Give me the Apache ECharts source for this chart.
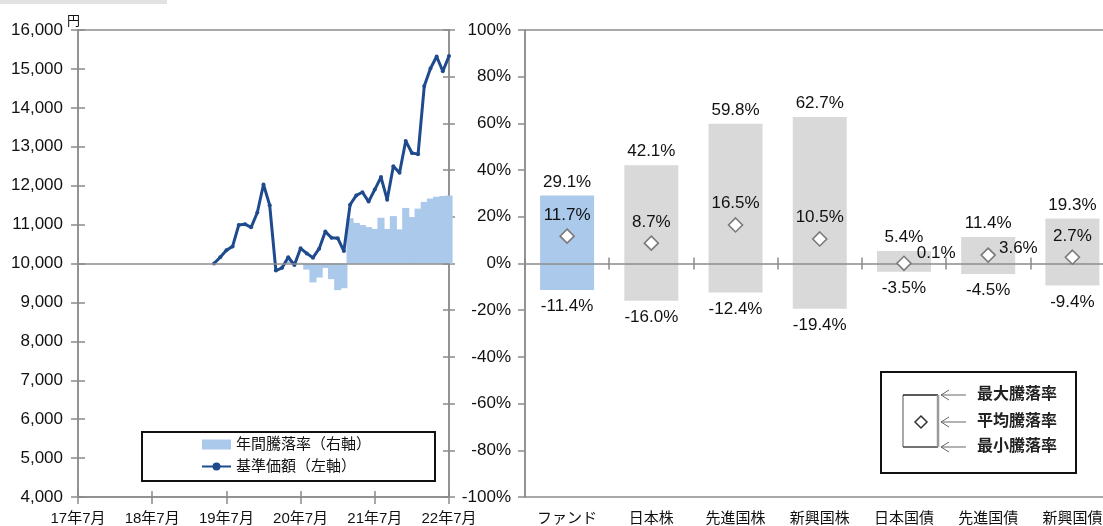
<!DOCTYPE html>
<html>
<head>
<meta charset="utf-8">
<script src="https://cdn.jsdelivr.net/npm/echarts@6/dist/echarts.min.js"></script>
<style>
  html, body { margin: 0; padding: 0; background: #fff; overflow: hidden; }
  #chart { position: absolute; left: 0; top: 0; width: 1115px; height: 560px; }
</style>
</head>
<body>
<div id="chart"></div>
<script>
const FONT = "'Liberation Sans', 'Noto Sans CJK JP', sans-serif";
const AXIS_GRAY = '#8c8c8c';
const TEXT = '#111';
const NAV_BLUE = '#1f4b8e';
const LIGHT_BLUE = '#abc9eb';
const GRAY_BAR = '#d9d9d9';

// left chart: monthly NAV and 1-year return
const months = [
  '2019-05', '2019-06', '2019-07', '2019-08', '2019-09', '2019-10', '2019-11', '2019-12',
  '2020-01', '2020-02', '2020-03', '2020-04', '2020-05', '2020-06', '2020-07', '2020-08',
  '2020-09', '2020-10', '2020-11', '2020-12', '2021-01', '2021-02', '2021-03', '2021-04',
  '2021-05', '2021-06', '2021-07', '2021-08', '2021-09', '2021-10', '2021-11', '2021-12',
  '2022-01', '2022-02', '2022-03', '2022-04', '2022-05', '2022-06', '2022-07'
];
const navValues = [
  10000, 10160, 10340, 10440, 10990, 11010, 10930, 11310, 12030, 11500,
  9820, 9890, 10160, 9960, 10390, 10260, 10150, 10380, 10820, 10660,
  10650, 10320, 11510, 11750, 11830, 11590, 11900, 12220, 11640, 12500,
  12330, 13150, 12840, 12810, 14560, 15010, 15320, 14940, 15330
];
const annualReturns = [
  null, null, null, null, null, null, null, null, null, null, null, null,
  1.0, -0.5, 0.3, -2.6, -8.1, -6.0, -1.9, -6.7, -11.4, -10.6,
  19.4, 17.4, 16.5, 15.6, 14.8, 19.6, 14.8, 20.3, 14.6, 23.8,
  19.9, 23.5, 26.4, 27.8, 28.6, 28.9, 29.1
];
const yearTickLabels = ['17年7月', '18年7月', '19年7月', '20年7月', '21年7月', '22年7月'];

// right chart: range of annual returns by asset class
const assetClasses = ['ファンド', '日本株', '先進国株', '新興国株', '日本国債', '先進国債', '新興国債'];
const maxReturns = [29.1, 42.1, 59.8, 62.7, 5.4, 11.4, 19.3];
const avgReturns = [11.7, 8.7, 16.5, 10.5, 0.1, 3.6, 2.7];
const minReturns = [-11.4, -16.0, -12.4, -19.4, -3.5, -4.5, -9.4];

// months counted from 2017-07 (start of the x axis)
function monthIndex(ym) {
  const [y, m] = ym.split('-').map(Number);
  return (y - 2017) * 12 + (m - 7);
}

const navData = months.map((m, i) => [monthIndex(m), navValues[i]]);
const returnData = months
  .map((m, i) => [monthIndex(m), annualReturns[i]])
  .filter(d => d[1] !== null);

// a couple of average labels sit beside the marker in the original
const avgLabelTweaks = {
  4: { position: 'right', distance: 5, offset: [0, -10] },
  5: { position: 'right', distance: 3, offset: [0, -7] }
};
const avgData = avgReturns.map((v, i) => (
  avgLabelTweaks[i] ? { value: v, label: avgLabelTweaks[i] } : v
));

const pct = p => p.value.toFixed(1) + '%';
const barColor = p => (p.dataIndex === 0 ? LIGHT_BLUE : GRAY_BAR);

const axisLineStyle = { color: AXIS_GRAY, width: 1.5 };
const hiddenLabel = { show: false };
const numLabel = { fontSize: 17, color: TEXT, fontFamily: FONT };

const chart = echarts.init(document.getElementById('chart'));

const option = {
  animation: false,
  textStyle: { fontFamily: FONT },
  grid: [
    { left: 78, top: 30, width: 371, height: 467, show: true, borderColor: AXIS_GRAY, borderWidth: 1.5 },
    { left: 525, top: 30, width: 589.5, height: 467, show: true, borderColor: AXIS_GRAY, borderWidth: 1.5 }
  ],
  legend: {
    left: 201,
    top: 437,
    padding: 0,
    orient: 'vertical',
    itemWidth: 29,
    itemHeight: 10,
    itemGap: 7,
    textStyle: { fontSize: 15, color: TEXT, fontFamily: FONT },
    data: [
      { name: '年間騰落率（右軸）', icon: 'rect' },
      { name: '基準価額（左軸）' }
    ]
  },
  xAxis: [
    {
      gridIndex: 0, type: 'value', min: 0, max: 60, interval: 12, position: 'bottom',
      axisLine: { show: true, onZero: false, lineStyle: axisLineStyle },
      axisTick: { show: true, length: 7, lineStyle: axisLineStyle },
      axisLabel: {
        margin: 14, fontSize: 15, color: TEXT, fontFamily: FONT,
        formatter: v => yearTickLabels[v / 12]
      },
      splitLine: { show: false }
    },
    {
      gridIndex: 0, type: 'value', min: 0, max: 60, interval: 12, position: 'bottom',
      axisLine: { show: false, onZero: false },
      axisTick: { show: true, inside: true, length: 6, lineStyle: axisLineStyle },
      axisLabel: hiddenLabel,
      splitLine: { show: false }
    },
    {
      gridIndex: 1, type: 'category', data: assetClasses, position: 'bottom',
      axisLine: { show: false, onZero: false },
      axisTick: { show: false },
      axisLabel: { margin: 14, fontSize: 15, color: TEXT, fontFamily: FONT }
    },
    {
      gridIndex: 1, type: 'category', data: assetClasses, position: 'bottom', z: 5,
      axisLine: { show: true, onZero: true, onZeroAxisIndex: 4, lineStyle: axisLineStyle },
      axisTick: { show: true, length: 6, lineStyle: axisLineStyle },
      axisLabel: hiddenLabel
    },
    {
      gridIndex: 1, type: 'category', data: assetClasses, position: 'bottom', z: 5,
      axisLine: { show: false, onZero: true, onZeroAxisIndex: 4 },
      axisTick: { show: true, inside: true, length: 6, lineStyle: axisLineStyle },
      axisLabel: hiddenLabel
    }
  ],
  yAxis: [
    {
      gridIndex: 0, type: 'value', position: 'left', min: 4000, max: 16000, interval: 1000,
      name: '円', nameLocation: 'end', nameGap: 2,
      nameTextStyle: { fontSize: 13, color: TEXT, align: 'right', padding: [0, -2, 0, 0], fontFamily: FONT },
      axisLine: { show: true, onZero: false, lineStyle: axisLineStyle },
      axisTick: { show: true, length: 7, lineStyle: axisLineStyle },
      axisLabel: Object.assign({ margin: 15, formatter: v => v.toLocaleString('en-US') }, numLabel),
      splitLine: { show: false }
    },
    {
      gridIndex: 0, type: 'value', position: 'right', min: -100, max: 100, interval: 20,
      axisLine: { show: true, onZero: false, lineStyle: axisLineStyle },
      axisTick: { show: true, length: 6, lineStyle: axisLineStyle },
      axisLabel: hiddenLabel,
      splitLine: { show: false }
    },
    {
      gridIndex: 0, type: 'value', position: 'left', min: 4000, max: 16000, interval: 1000,
      axisLine: { show: false, onZero: false },
      axisTick: { show: true, inside: true, length: 7, lineStyle: axisLineStyle },
      axisLabel: hiddenLabel,
      splitLine: { show: false }
    },
    {
      gridIndex: 0, type: 'value', position: 'right', min: -100, max: 100, interval: 20,
      axisLine: { show: false, onZero: false },
      axisTick: { show: true, inside: true, length: 6, lineStyle: axisLineStyle },
      axisLabel: hiddenLabel,
      splitLine: { show: false }
    },
    {
      gridIndex: 1, type: 'value', position: 'left', min: -100, max: 100, interval: 20,
      axisLine: { show: true, onZero: false, lineStyle: axisLineStyle },
      axisTick: { show: true, length: 7, lineStyle: axisLineStyle },
      axisLabel: Object.assign({ margin: 14, formatter: '{value}%' }, numLabel),
      splitLine: { show: false }
    }
  ],
  series: [
    {
      name: '年間騰落率（右軸）',
      type: 'bar',
      xAxisIndex: 0,
      yAxisIndex: 1,
      data: returnData,
      barWidth: '115%',
      barCategoryGap: '0%',
      itemStyle: { color: LIGHT_BLUE, borderWidth: 0 },
      z: 2
    },
    {
      name: '基準価額（左軸）',
      type: 'line',
      xAxisIndex: 0,
      yAxisIndex: 0,
      data: navData,
      symbol: 'circle',
      symbolSize: 4,
      lineStyle: { color: NAV_BLUE, width: 3 },
      itemStyle: { color: NAV_BLUE },
      z: 4,
      markLine: {
        silent: true,
        symbol: 'none',
        label: { show: false },
        lineStyle: { color: AXIS_GRAY, width: 1.5, type: 'solid' },
        data: [{ yAxis: 10000 }]
      }
    },
    {
      name: '最大騰落率',
      type: 'bar',
      xAxisIndex: 2,
      yAxisIndex: 4,
      data: maxReturns,
      barWidth: 54,
      barGap: '-100%',
      itemStyle: { color: barColor },
      label: Object.assign({ show: true, position: 'top', distance: 5, formatter: pct }, numLabel)
    },
    {
      name: '最小騰落率',
      type: 'bar',
      xAxisIndex: 2,
      yAxisIndex: 4,
      data: minReturns,
      barWidth: 54,
      barGap: '-100%',
      itemStyle: { color: barColor },
      label: Object.assign({ show: true, position: 'bottom', distance: 8, formatter: pct }, numLabel)
    },
    {
      name: '平均騰落率',
      type: 'scatter',
      xAxisIndex: 2,
      yAxisIndex: 4,
      data: avgData,
      symbol: 'diamond',
      symbolSize: 14,
      itemStyle: { color: '#ffffff', borderColor: '#7a7a7a', borderWidth: 1.6, opacity: 1 },
      z: 6,
      label: Object.assign({ show: true, position: 'top', distance: 5, formatter: pct }, numLabel)
    }
  ],
  graphic: [
    { type: 'rect', shape: { x: 0, y: 0, width: 167, height: 4 }, style: { fill: '#e2e2e2' } },
    { type: 'rect', shape: { x: 142, y: 432, width: 293, height: 49 }, style: { fill: '#fff', stroke: '#111', lineWidth: 2 } },
    { type: 'rect', shape: { x: 881, y: 372, width: 195, height: 101 }, style: { fill: '#fff', stroke: '#111', lineWidth: 2 } },
    { type: 'line', shape: { x1: 903, y1: 395, x2: 903, y2: 447 }, style: { stroke: '#8c8c8c', lineWidth: 1.5 } },
    { type: 'line', shape: { x1: 903, y1: 395, x2: 938, y2: 395 }, style: { stroke: '#222', lineWidth: 1.5 } },
    { type: 'line', shape: { x1: 903, y1: 447, x2: 938, y2: 447 }, style: { stroke: '#444', lineWidth: 1.5 } },
    { type: 'line', shape: { x1: 938, y1: 395, x2: 938, y2: 447 }, style: { stroke: '#9a9a9a', lineWidth: 2.5 } },
    { type: 'polygon', shape: { points: [[921, 416], [927, 422], [921, 428], [915, 422]] }, style: { fill: '#fff', stroke: '#333', lineWidth: 1.5 } },
    { type: 'line', shape: { x1: 941, y1: 395, x2: 966, y2: 395 }, style: { stroke: '#666', lineWidth: 1 } },
    { type: 'line', shape: { x1: 941, y1: 422, x2: 966, y2: 422 }, style: { stroke: '#666', lineWidth: 1 } },
    { type: 'line', shape: { x1: 941, y1: 447, x2: 966, y2: 447 }, style: { stroke: '#666', lineWidth: 1 } },
    { type: 'polyline', shape: { points: [[949, 390], [941, 395], [949, 400]] }, style: { stroke: '#666', lineWidth: 1, fill: null } },
    { type: 'polyline', shape: { points: [[949, 417], [941, 422], [949, 427]] }, style: { stroke: '#666', lineWidth: 1, fill: null } },
    { type: 'polyline', shape: { points: [[949, 442], [941, 447], [949, 452]] }, style: { stroke: '#666', lineWidth: 1, fill: null } },
    { type: 'text', x: 977, y: 395, style: { text: '最大騰落率', fontSize: 16, fontWeight: 'bold', fontFamily: FONT, fill: '#222', verticalAlign: 'middle' } },
    { type: 'text', x: 977, y: 422, style: { text: '平均騰落率', fontSize: 16, fontWeight: 'bold', fontFamily: FONT, fill: '#222', verticalAlign: 'middle' } },
    { type: 'text', x: 977, y: 447, style: { text: '最小騰落率', fontSize: 16, fontWeight: 'bold', fontFamily: FONT, fill: '#222', verticalAlign: 'middle' } }
  ]
};

chart.setOption(option);
</script>
</body>
</html>
